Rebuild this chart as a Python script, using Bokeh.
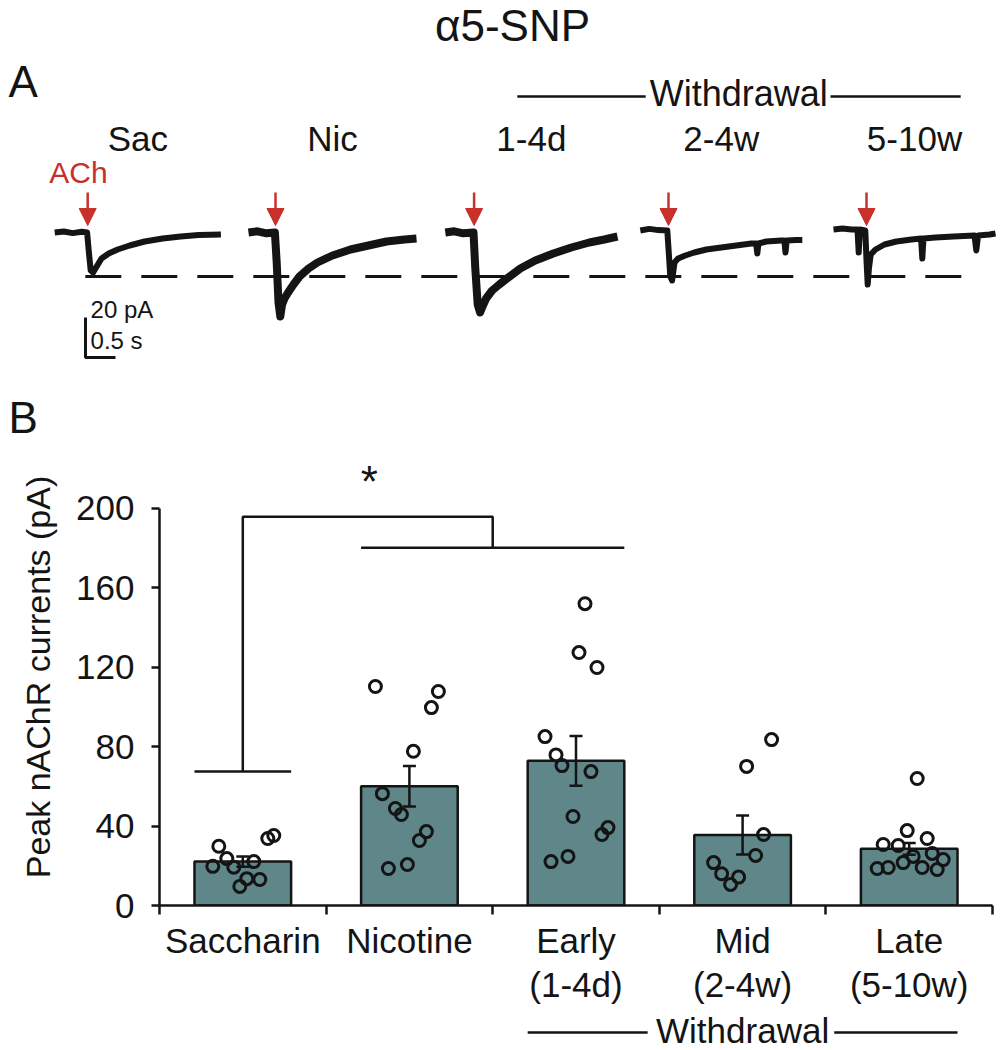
from bokeh.plotting import figure
from bokeh.models import Range1d, FixedTicker, Arrow, NormalHead
from bokeh.core.properties import value
from bokeh.embed import file_html
from bokeh.resources import INLINE

FONT = "Liberation Sans"
INK = "#141414"
RED = "#c8302c"
BAR = "#5f8688"

# ---------------- Panel A data: example traces (time s, current pA) ----------------
trace_labels = ["Sac", "Nic", "1-4d", "2-4w", "5-10w"]

sac_t = [0, 0.15, 0.3, 0.45, 0.54, 0.57, 0.6, 0.64, 0.7, 0.78, 0.9, 1.05, 1.25, 1.5, 1.8, 2.1, 2.4, 2.77]
sac_i = [0, 0.5, -0.3, 0.4, 0, -10, -19, -20, -17, -13, -10.5, -8.5, -6.5, -4.5, -3, -2, -1.2, -1]

nic_t = [0, 0.15, 0.3, 0.44, 0.47, 0.5, 0.53, 0.56, 0.6, 0.66, 0.75, 0.85, 1.0, 1.15, 1.4, 1.7, 2.0, 2.3, 2.6, 2.8]
nic_i = [0, 0.6, -0.4, 0, -15, -35, -42, -36, -33, -30, -26, -22, -18, -15, -11.5, -8.5, -6.5, -4.5, -3.5, -3]

early_t = [0, 0.15, 0.3, 0.47, 0.5, 0.54, 0.58, 0.62, 0.68, 0.78, 0.9, 1.05, 1.25, 1.5, 1.8, 2.1, 2.4, 2.65, 2.87]
early_i = [0, 0.6, -0.4, 0, -18, -36, -40, -37, -33, -29, -26, -22.5, -18, -14, -10.5, -7.5, -5, -3.5, -2]

mid_t = [0, 0.15, 0.3, 0.45, 0.47, 0.5, 0.53, 0.57, 0.63, 0.75, 0.9, 1.1, 1.35, 1.6, 1.85, 1.93, 1.95, 1.97,
         2.1, 2.35, 2.4, 2.42, 2.44, 2.6, 2.7]
mid_i = [1, 1.8, 1.2, 1, -8, -22, -24, -15, -13, -11.5, -10, -8.5, -7.5, -6.5, -5.5, -5.5, -10.5, -5.5,
         -4.5, -4, -4, -10, -4, -3.8, -3.8]

late_t = [0, 0.15, 0.3, 0.4, 0.42, 0.44, 0.53, 0.55, 0.57, 0.59, 0.62, 0.7, 0.85, 1.05, 1.3, 1.46, 1.48, 1.5,
          1.7, 2.0, 2.35, 2.38, 2.41, 2.6, 2.7]
late_i = [1.5, 2, 1.5, 1.5, -10, 1.5, 1, -14, -26, -18, -11, -8.5, -6, -4.5, -3.5, -3, -13, -3,
          -2.5, -2, -1.5, -9, -1.5, -1, -0.5]

ach_onset = [0.55, 0.45, 0.48, 0.47, 0.55]   # s after trace start
ref_level = -22                              # pA, dashed reference line
scale_pA = 20
scale_s = 0.5

# ---------------- Panel B data ----------------
categories = ["Saccharin", "Nicotine", "Early\n(1-4d)", "Mid\n(2-4w)", "Late\n(5-10w)"]
means = [22.1, 60.0, 72.8, 35.5, 28.5]
sems = [2.6, 10.2, 12.5, 9.8, 3.0]

sac_vals = [29.8, 23.6, 19.7, 19.3, 22.1, 13.5, 13.1, 9.6, 33.7, 35.2]
sac_jit = [-0.144, -0.096, -0.18, -0.054, 0.066, 0.024, 0.102, -0.018, 0.15, 0.186]
nic_vals = [110.2, 107.7, 99.6, 77.6, 56.3, 48.8, 45.8, 37.2, 32.7, 20.6, 18.6]
nic_jit = [-0.204, 0.174, 0.132, 0.024, -0.162, -0.084, -0.048, 0.102, 0.06, -0.012, -0.126]
early_vals = [151.9, 127.3, 119.8, 85.0, 75.8, 70.4, 67.4, 44.8, 39.2, 35.7, 24.7, 22.1]
early_jit = [0.054, 0.018, 0.126, -0.186, -0.12, -0.084, 0.09, -0.018, 0.192, 0.156, -0.048, -0.15]
mid_vals = [83.5, 70.0, 35.7, 25.2, 21.6, 16.0, 14.3, 10.6]
mid_jit = [0.174, 0.024, 0.126, 0.078, -0.174, -0.126, -0.024, -0.072]
late_vals = [63.9, 37.7, 33.7, 30.7, 30.2, 26.2, 24.7, 23.1, 21.6, 19.1, 18.6, 19.1, 18.1]
late_jit = [0.048, -0.012, 0.108, -0.156, -0.066, 0.138, 0.024, 0.204, -0.036, 0.078, -0.192, -0.126, 0.168]

y_ticks = [0, 40, 80, 120, 160, 200]
sig_low, sig_high, sig_group = 67.4, 195.7, 180.0

# ---------------- Panel A figure ----------------
trace_start = [0.77, 4.0, 7.28, 10.53, 13.75]
trace_width = [6, 8, 8, 6, 6]
traces = [(sac_t, sac_i), (nic_t, nic_i), (early_t, early_i), (mid_t, mid_i), (late_t, late_i)]

pA = figure(width=1006, height=448, x_range=Range1d(-8 / 60, 998 / 60), y_range=Range1d(-108, 116),
            output_backend="svg", toolbar_location=None, min_border=0,
            x_axis_type=None, y_axis_type=None)
pA.outline_line_color = None
pA.grid.grid_line_color = None

for (tt, ii), s0, lw in zip(traces, trace_start, trace_width):
    pA.line([s0 + t for t in tt], ii, line_width=lw, line_color=INK, line_join="round")

pA.line([1.28, 15.92], [ref_level, ref_level], line_width=3, line_color=INK, line_dash="36 20")

for s0, on in zip(trace_start, ach_onset):
    pA.add_layout(Arrow(end=NormalHead(size=17, fill_color=RED, line_color=RED, line_width=1),
                        x_start=s0 + on, y_start=20, x_end=s0 + on, y_end=3.5,
                        line_color=RED, line_width=2.5))

lab_x = [s0 + tt[-1] / 2 for (tt, _), s0 in zip(traces, trace_start)]
pA.text(lab_x, [47] * 5, text=trace_labels, text_font=value(FONT), text_font_size="35px",
        text_align="center", text_baseline="middle", text_color=INK)
pA.text([1.167], [30], text=["ACh"], text_font=value(FONT), text_font_size="30px",
        text_align="center", text_baseline="middle", text_color=RED)
pA.text([8.4], [103.5], text=["α5-SNP"], text_font=value(FONT), text_font_size="44px",
        text_align="center", text_baseline="middle", text_color=INK)
pA.text([0.0, 0.0], [75.5, -92.5], text=["A", "B"], text_font=value(FONT), text_font_size="44px",
        text_align="left", text_baseline="middle", text_color=INK)
pA.text([12.17], [69.5], text=["Withdrawal"], text_font=value(FONT), text_font_size="36px",
        text_align="center", text_baseline="middle", text_color=INK)
pA.multi_line([[8.48, 10.62], [13.70, 15.87]], [[68, 68], [68, 68]], line_width=2.5, line_color=INK)

# scale bar
sb_x, sb_y = 1.283, -62.5
pA.line([sb_x, sb_x, sb_x + scale_s], [sb_y + scale_pA, sb_y, sb_y], line_width=3, line_color=INK)
pA.text([sb_x + 0.085, sb_x + 0.085], [-38.5, -54], text=[f"{scale_pA} pA", f"{scale_s} s"],
        text_font=value(FONT), text_font_size="24px", text_align="left", text_baseline="middle",
        text_color=INK)

# ---------------- Panel B figure ----------------
centers = [i + 0.5 for i in range(len(categories))]
xr = Range1d(0, 5)
pB = figure(width=1006, height=561, x_range=xr, y_range=Range1d(0, 230),
            output_backend="svg", toolbar_location=None,
            min_border_left=159, min_border_right=14, min_border_top=0, min_border_bottom=104)
pB.outline_line_color = None
pB.grid.grid_line_color = None

pB.vbar(x=centers, top=means, bottom=0, width=0.58, fill_color=BAR, line_color=INK, line_width=2.5)

err_lo = [m - s for m, s in zip(means, sems)]
err_hi = [m + s for m, s in zip(means, sems)]
pB.segment(centers, err_lo, centers, err_hi, line_width=2.5, line_color=INK)
cap = 0.039
pB.segment([c - cap for c in centers] * 2, err_lo + err_hi, [c + cap for c in centers] * 2, err_lo + err_hi,
           line_width=2.5, line_color=INK)

groups = [(sac_vals, sac_jit), (nic_vals, nic_jit), (early_vals, early_jit), (mid_vals, mid_jit), (late_vals, late_jit)]
px, py = [], []
for c, (vals, jit) in zip(centers, groups):
    px += [c + j for j in jit]
    py += vals
pB.scatter(px, py, marker="circle", size=12, fill_color=None, line_color=INK, line_width=3)

# significance bracket
pB.multi_line([[0.21, 0.79], [0.5, 0.5, 2.0, 2.0], [1.21, 2.79]],
              [[sig_low, sig_low], [sig_low, sig_high, sig_high, sig_group], [sig_group, sig_group]],
              line_width=2.5, line_color=INK)
pB.text([1.26], [213.4], text=["*"], text_font=value(FONT), text_font_size="44px",
        text_align="center", text_baseline="alphabetic", text_color=INK)

xa = pB.xaxis[0]
xa.ticker = FixedTicker(ticks=centers, minor_ticks=[0, 1, 2, 3, 4, 5])
xa.major_label_overrides = {c: lab for c, lab in zip(centers, categories)}
xa.major_tick_out = 0
xa.major_tick_in = 0
xa.minor_tick_out = 9
xa.minor_tick_in = 0
xa.minor_tick_line_width = 2.5
xa.minor_tick_line_color = INK
xa.axis_line_width = 2.5
xa.axis_line_color = INK
xa.major_label_standoff = 6
xa.major_label_text_font = FONT
xa.major_label_text_font_size = "35px"
xa.major_label_text_color = INK
xa.major_label_text_line_height = 1.15

ya = pB.yaxis[0]
ya.ticker = FixedTicker(ticks=y_ticks)
ya.bounds = (0, 200)
ya.major_tick_out = 8
ya.major_tick_in = 0
ya.minor_tick_out = 0
ya.minor_tick_in = 0
ya.major_tick_line_width = 2.5
ya.major_tick_line_color = INK
ya.axis_line_width = 2.5
ya.axis_line_color = INK
ya.major_label_standoff = 17
ya.major_label_text_font = FONT
ya.major_label_text_font_size = "35px"
ya.major_label_text_color = INK
ya.axis_label = "Peak nAChR currents (pA)"
ya.axis_label_text_font = FONT
ya.axis_label_text_font_size = "34px"
ya.axis_label_text_font_style = "normal"
ya.axis_label_text_color = INK
ya.axis_label_standoff = 16

# ---------------- Withdrawal strip under panel B ----------------
pC = figure(width=1006, height=41, x_range=xr, y_range=Range1d(0, 1),
            output_backend="svg", toolbar_location=None,
            min_border_left=159, min_border_right=14, min_border_top=0, min_border_bottom=0,
            x_axis_type=None, y_axis_type=None)
pC.outline_line_color = None
pC.grid.grid_line_color = None
pC.text([3.5], [0.5], text=["Withdrawal"], text_font=value(FONT), text_font_size="35px",
        text_align="center", text_baseline="middle", text_color=INK)
pC.multi_line([[2.21, 2.93], [4.05, 4.79]], [[0.44, 0.44], [0.44, 0.44]], line_width=2.5, line_color=INK)

# three independent roots, stacked; kept separate so their frames are not aligned to each other
open("out.html", "w").write(file_html([pA, pB, pC], INLINE))
